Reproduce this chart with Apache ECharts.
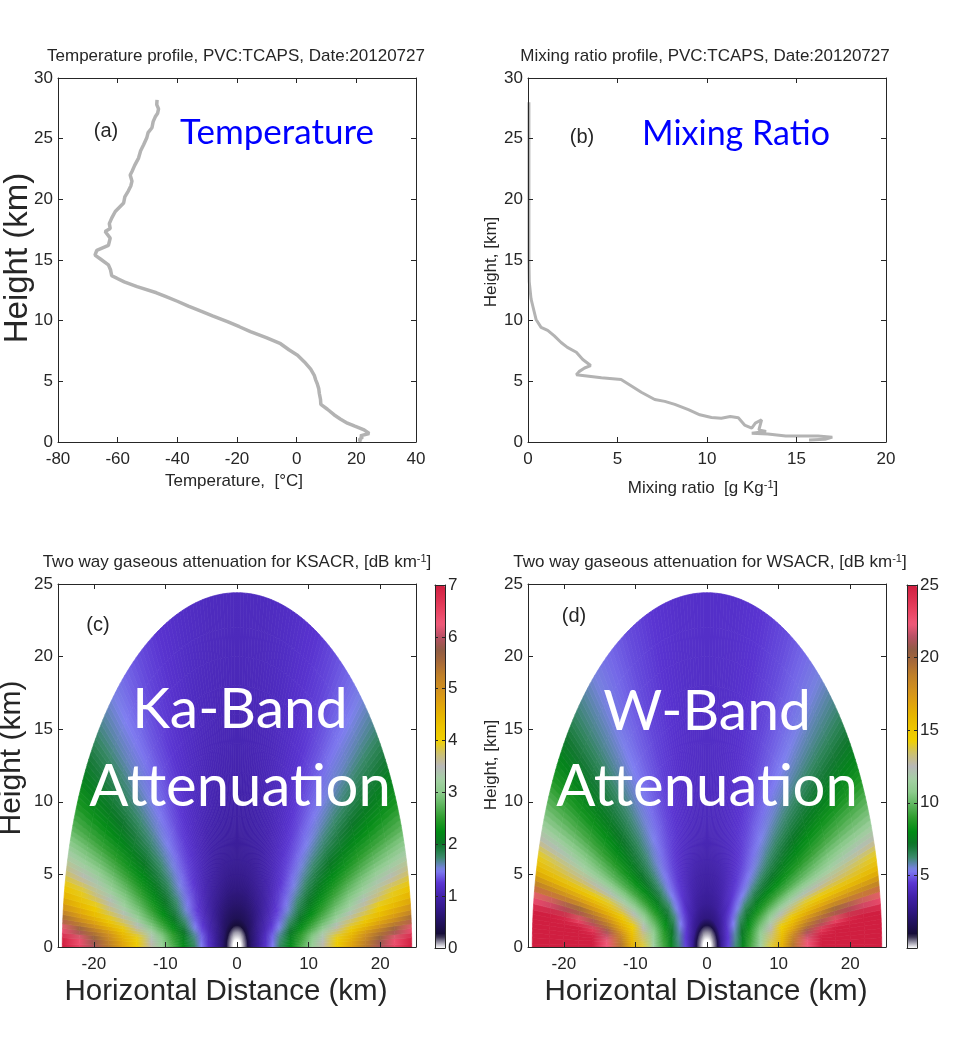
<!DOCTYPE html>
<html><head><meta charset="utf-8">
<script src="https://cdn.jsdelivr.net/npm/echarts@6/dist/echarts.min.js"></script>
<style>html,body{margin:0;padding:0;background:#fff}#c{width:967px;height:1047px}</style>
</head><body><div id="c"></div>
<script>
// ---------- DATA ----------
const tempHeights = [0,0.2,0.4,0.5,0.7,1.0,1.3,1.55,1.9,2.25,2.7,3.1,3.5,4.0,4.4,4.8,5.1,5.5,6.0,6.6,7.15,7.6,8.1,8.6,9.1,9.5,9.9,10.4,10.8,11.2,11.6,12.0,12.3,12.8,13.2,13.5,13.7,14.2,14.6,15.1,15.4,15.8,16.2,16.8,17.35,17.6,18.0,18.45,19.0,19.7,20.2,20.7,21.1,21.5,22.0,22.3,22.8,23.4,24.0,24.5,25.1,25.5,25.9,26.4,26.8,27.1,27.45,27.8,28.2];
const tempValues  = [21.5,21.0,22.1,21.3,24.3,22.6,19.5,17.0,14.6,12.5,10.3,8.1,8.0,7.6,7.4,6.9,6.4,5.9,4.7,2.6,0.3,-2.6,-5.4,-10.2,-15.5,-19.2,-23,-28.2,-32.3,-36.3,-40,-44,-47,-53.5,-57.8,-60.3,-62,-62.4,-63.1,-65.9,-67.6,-67,-63.1,-62.5,-64.2,-62.5,-62.8,-62,-60.8,-58,-57.6,-56.4,-55.6,-55.2,-55.8,-55.2,-54.3,-53,-52.3,-51.3,-50.2,-49.8,-48.5,-48.1,-47.4,-46.6,-46.3,-46.9,-46.8];

const mixHeights = [28,26,22,18,15,13.2,11.8,11.25,10.1,9.45,9.2,8.75,8.2,7.8,7.4,6.8,6.3,6.2,6.1,5.8,5.55,5.3,5.15,4.6,4.1,3.5,3.35,3.1,2.66,2.24,2.02,1.96,2.1,2.0,1.4,1.14,1.55,1.83,1.0,0.86,0.72,0.66,0.5,0.5,0.5,0.4,0.22,0.17];
const mixValues  = [0.05,0.05,0.05,0.05,0.05,0.07,0.17,0.26,0.45,0.73,1.1,1.47,1.85,2.2,2.7,3.06,3.5,3.5,3.16,2.85,2.7,4.1,5.2,5.8,6.33,7.08,7.64,8.2,8.96,9.6,10.25,10.8,11.3,11.75,12.1,12.5,12.7,13.05,12.9,13.3,12.5,13.4,14.4,15.1,16.2,17.0,16.6,15.7];

// beam elevation angles (deg) and ranges (km) of the attenuation tables
const beamAngles = [0.5,1.5,3,4.5,6,8,10,12.5,15,17.5,20,24,28,32,36,40,45,50,56,63,72,81,90];
const beamRanges = [0,0.5,1,1.5,2,3,4,5,6,7.5,9,10.5,12,14,16,18,20,22,24.4];

// Ka-band two-way attenuation [dB], rows = beamAngles, cols = beamRanges
const kaAttenuation = [
[0,0,0.12,0.35,0.6,0.9,1.2,1.49,1.79,2.24,2.68,3.13,3.57,4.16,4.74,5.33,5.91,6.49,7.19],
[0,0,0.12,0.35,0.6,0.9,1.19,1.48,1.78,2.21,2.65,3.08,3.51,4.07,4.63,5.19,5.74,6.28,6.93],
[0,0,0.12,0.35,0.6,0.89,1.18,1.47,1.75,2.18,2.59,3.01,3.41,3.94,4.47,4.98,5.35,5.77,6.25],
[0,0,0.12,0.35,0.59,0.88,1.17,1.45,1.73,2.14,2.54,2.93,3.32,3.71,4.12,4.5,4.86,5.17,5.56],
[0,0,0.12,0.35,0.59,0.88,1.16,1.43,1.71,2.1,2.49,2.78,3.08,3.47,3.8,4.12,4.43,4.71,5.04],
[0,0,0.12,0.35,0.59,0.87,1.14,1.41,1.67,2.0,2.31,2.6,2.85,3.18,3.46,3.74,4.02,4.29,4.55],
[0,0,0.12,0.34,0.58,0.86,1.13,1.39,1.61,1.91,2.19,2.43,2.66,2.94,3.22,3.48,3.7,3.92,4.14],
[0,0,0.12,0.34,0.58,0.85,1.11,1.33,1.53,1.8,2.04,2.25,2.47,2.74,2.96,3.18,3.36,3.52,3.68],
[0,0,0.12,0.34,0.57,0.84,1.07,1.28,1.46,1.7,1.92,2.13,2.33,2.55,2.75,2.91,3.06,3.18,3.3],
[0,0,0.12,0.33,0.57,0.83,1.04,1.23,1.39,1.62,1.83,2.02,2.18,2.38,2.54,2.68,2.8,2.89,2.98],
[0,0,0.12,0.33,0.57,0.8,1.01,1.18,1.34,1.55,1.75,1.92,2.07,2.23,2.36,2.48,2.57,2.64,2.72],
[0,0,0.12,0.32,0.55,0.78,0.96,1.12,1.26,1.46,1.63,1.77,1.89,2.02,2.12,2.2,2.27,2.33,2.4],
[0,0,0.12,0.32,0.55,0.75,0.92,1.06,1.2,1.38,1.53,1.65,1.74,1.84,1.92,1.99,2.05,2.1,2.15],
[0,0,0.12,0.31,0.53,0.73,0.88,1.02,1.15,1.32,1.44,1.54,1.62,1.7,1.76,1.82,1.87,1.91,1.95],
[0,0,0.12,0.31,0.52,0.7,0.85,0.99,1.1,1.25,1.36,1.44,1.51,1.58,1.64,1.69,1.73,1.76,1.79],
[0,0,0.11,0.3,0.51,0.68,0.82,0.95,1.06,1.19,1.29,1.36,1.42,1.48,1.53,1.57,1.6,1.63,1.66],
[0,0,0.11,0.3,0.5,0.66,0.8,0.92,1.02,1.13,1.21,1.27,1.32,1.38,1.42,1.46,1.48,1.5,1.53],
[0,0,0.11,0.29,0.49,0.64,0.78,0.89,0.98,1.08,1.15,1.2,1.25,1.3,1.34,1.36,1.39,1.4,1.42],
[0,0,0.11,0.29,0.48,0.62,0.75,0.86,0.94,1.03,1.09,1.14,1.18,1.22,1.25,1.28,1.29,1.31,1.33],
[0,0,0.1,0.28,0.47,0.61,0.73,0.83,0.9,0.98,1.03,1.08,1.12,1.15,1.18,1.2,1.22,1.23,1.24],
[0,0,0.1,0.28,0.46,0.6,0.71,0.8,0.86,0.94,0.99,1.03,1.06,1.09,1.12,1.13,1.15,1.16,1.17],
[0,0,0.1,0.28,0.45,0.59,0.7,0.78,0.85,0.91,0.96,1.0,1.03,1.06,1.08,1.1,1.11,1.12,1.13],
[0,0,0.1,0.28,0.45,0.59,0.7,0.78,0.84,0.9,0.95,0.99,1.02,1.05,1.07,1.085,1.1,1.11,1.12]
];

// W-band two-way attenuation [dB], rows = beamAngles, cols = beamRanges
const wAttenuation = [
[0,0,0.45,1.4,3.1,4.64,6.19,7.73,9.27,11.58,13.89,16.3,19.2,22.6,25.8,28.6,31.2,33.9,37.4],
[0,0,0.45,1.4,3.09,4.63,6.16,7.69,9.22,11.49,13.76,16.1,19.0,22.3,25.4,28.0,30.5,33.1,36.42],
[0,0,0.45,1.4,3.08,4.61,6.12,7.63,9.13,11.36,13.57,15.8,18.6,21.8,24.8,27.2,29.4,31.5,34.1],
[0,0,0.45,1.4,3.07,4.59,6.09,7.57,9.05,11.23,13.38,15.5,17.9,21.0,23.5,26.0,27.6,29.0,30.9],
[0,0,0.45,1.4,3.06,4.57,6.05,7.52,8.96,11.1,13.19,15.07,16.84,19.19,21.09,22.9,24.47,25.75,27.17],
[0,0,0.45,1.4,3.05,4.54,6.0,7.44,8.85,10.86,12.64,14.4,15.83,17.63,19.0,20.28,21.08,21.82,22.44],
[0,0,0.45,1.4,3.04,4.51,5.95,7.36,8.69,10.46,12.13,13.48,14.71,15.99,16.88,17.58,18.1,18.51,18.95],
[0,0,0.45,1.4,3.02,4.47,5.89,7.19,8.38,9.98,11.34,12.36,13.21,13.99,14.51,14.92,15.27,15.62,16.04],
[0,0,0.45,1.4,3.01,4.44,5.8,6.98,8.1,9.45,10.47,11.23,11.78,12.27,12.65,12.99,13.34,13.7,14.1],
[0,0,0.45,1.4,2.99,4.41,5.65,6.83,7.73,8.86,9.65,10.18,10.55,10.93,11.27,11.62,11.98,12.3,12.64],
[0,0,0.45,1.4,2.98,4.36,5.54,6.55,7.41,8.32,8.89,9.26,9.55,9.89,10.25,10.6,10.92,11.18,11.41],
[0,0,0.45,1.4,2.95,4.23,5.32,6.2,6.84,7.46,7.82,8.1,8.36,8.72,9.05,9.34,9.56,9.7,9.87],
[0,0,0.45,1.4,2.93,4.13,5.09,5.8,6.28,6.72,7.0,7.26,7.53,7.86,8.14,8.33,8.47,8.59,8.69],
[0,0,0.45,1.4,2.89,4.02,4.86,5.43,5.79,6.12,6.38,6.65,6.9,7.19,7.39,7.53,7.63,7.71,7.78],
[0,0,0.45,1.4,2.84,3.89,4.64,5.1,5.37,5.65,5.91,6.17,6.41,6.63,6.77,6.88,6.96,7.01,7.07],
[0,0,0.45,1.4,2.8,3.79,4.43,4.79,5.01,5.27,5.54,5.79,5.98,6.15,6.27,6.35,6.41,6.45,6.5],
[0,0,0.45,1.4,2.76,3.64,3.99,4.46,4.65,4.91,5.17,5.39,5.54,5.68,5.76,5.82,5.87,5.91,5.93],
[0,0,0.45,1.35,2.71,3.51,3.96,4.2,4.37,4.64,4.89,5.07,5.17,5.29,5.36,5.41,5.45,5.47,5.49],
[0,0,0.45,1.35,2.64,3.39,3.74,3.95,4.12,4.38,4.6,4.74,4.84,4.93,4.98,5.03,5.05,5.07,5.09],
[0,0,0.4,1.3,2.59,3.24,3.55,3.73,3.91,4.16,4.36,4.46,4.54,4.61,4.66,4.69,4.71,4.73,4.74],
[0,0,0.4,1.3,2.54,3.11,3.38,3.55,3.73,3.97,4.12,4.23,4.29,4.34,4.39,4.41,4.43,4.44,4.45],
[0,0,0.4,1.3,2.51,3.04,3.28,3.45,3.63,3.86,3.99,4.09,4.15,4.19,4.23,4.25,4.27,4.28,4.29],
[0,0,0.4,1.3,2.5,3.02,3.25,3.42,3.6,3.82,3.95,4.04,4.1,4.15,4.18,4.2,4.22,4.23,4.24]
];

const tempTicks = [-80,-60,-40,-20,0,20,40];
const mixTicks = [0,5,10,15,20];
const heightTicks30 = [0,5,10,15,20,25,30];
const heightTicks25 = [0,5,10,15,20,25];
const distanceTicks = [-20,-10,0,10,20];
const kaBarTicks = [0,1,2,3,4,5,6,7];
const wBarTicks = [5,10,15,20,25];

// ---------- STYLE ----------
const cmap = ['#ffffff','#140c34','#22125e','#321888','#4222aa','#5a34d2','#8080f2','#3a8a6a','#0c7428','#008c14','#2c9c2c','#5cb45c','#8ccc8c','#a4d0a4','#b8b8b8','#ccc070','#f0d000','#ecc400','#e6b400','#dea010','#d09020','#c08028','#a86a38','#905c44','#b85064','#f05a7a','#e84462','#dc3050','#d01e40'];
const FONT = "'Liberation Sans', Arial, Helvetica, sans-serif";
const BIG = "Lato, 'Open Sans', sans-serif";
const AX = '#262626';

const chart = echarts.init(document.getElementById('c'), null, {renderer:'canvas'});

const grids = [
  {left:58, top:78, width:358, height:364},
  {left:528, top:78, width:358, height:364},
  {left:58, top:584, width:358, height:363},
  {left:528, top:584, width:358, height:363},
  {left:435, top:585, width:10, height:363},
  {left:907, top:585, width:10, height:363}
];
const xAxes = [], yAxes = [];
function lineStyle(){ return {show:true, onZero:false, lineStyle:{color:AX, width:1}}; }
function addX(gi, min, max, ticks){
  xAxes.push({gridIndex:gi, type:'value', min, max, position:'bottom', z:5,
    axisLine:lineStyle(), splitLine:{show:false},
    axisTick:{show:true, inside:true, length:5, customValues:ticks, lineStyle:{color:AX}},
    axisLabel:{show:true, customValues:ticks, color:AX, fontSize:17, fontFamily:FONT, margin:9}});
  xAxes.push({gridIndex:gi, type:'value', min, max, position:'top', z:5,
    axisLine:lineStyle(), splitLine:{show:false},
    axisTick:{show:true, inside:true, length:5, customValues:ticks, lineStyle:{color:AX}},
    axisLabel:{show:false}});
}
function addY(gi, min, max, ticks){
  yAxes.push({gridIndex:gi, type:'value', min, max, position:'left', z:5,
    axisLine:lineStyle(), splitLine:{show:false},
    axisTick:{show:true, inside:true, length:5, customValues:ticks, lineStyle:{color:AX}},
    axisLabel:{show:true, customValues:ticks, color:AX, fontSize:17, fontFamily:FONT, margin:5}});
  yAxes.push({gridIndex:gi, type:'value', min, max, position:'right', z:5,
    axisLine:lineStyle(), splitLine:{show:false},
    axisTick:{show:true, inside:true, length:5, customValues:ticks, lineStyle:{color:AX}},
    axisLabel:{show:false}});
}
addX(0,-80,40,tempTicks); addY(0,0,30,heightTicks30);
addX(1,0,20,mixTicks); addY(1,0,30,heightTicks30);
addX(2,-25,25,distanceTicks); addY(2,0,25,heightTicks25);
addX(3,-25,25,distanceTicks); addY(3,0,25,heightTicks25);
function addBar(gi, max, ticks){
  xAxes.push({gridIndex:gi, type:'value', min:0, max:1, position:'bottom', z:5, axisLine:lineStyle(), axisTick:{show:false}, axisLabel:{show:false}, splitLine:{show:false}});
  xAxes.push({gridIndex:gi, type:'value', min:0, max:1, position:'top', z:5, axisLine:lineStyle(), axisTick:{show:false}, axisLabel:{show:false}, splitLine:{show:false}});
  yAxes.push({gridIndex:gi, type:'value', min:0, max, position:'right', z:5, axisLine:lineStyle(), splitLine:{show:false},
    axisTick:{show:true, inside:true, length:3, customValues:ticks, lineStyle:{color:AX}},
    axisLabel:{show:true, customValues:ticks, color:AX, fontSize:17, fontFamily:FONT, margin:3}});
  yAxes.push({gridIndex:gi, type:'value', min:0, max, position:'left', z:5, axisLine:lineStyle(), splitLine:{show:false},
    axisTick:{show:true, inside:true, length:3, customValues:ticks, lineStyle:{color:AX}},
    axisLabel:{show:false}});
}
addBar(4,7,kaBarTicks);
addBar(5,25,wBarTicks);

function cells(table){
  const out = [];
  for (let i=0;i<beamAngles.length;i++) for (let j=0;j<beamRanges.length;j++) out.push([i,j,table[i][j]]);
  return out;
}
const D2R = Math.PI/180;
// one cell = wedge between two table angles and two table ranges, shaded between its corner colours
function wedge(api, side, aA, aB, r0, r1, c0, c1){
  const pts = [];
  const n = 2;
  for (let k=0;k<=n;k++){ const a=(aA+(aB-aA)*k/n)*D2R; pts.push(api.coord([side*r0*Math.cos(a), r0*Math.sin(a)])); }
  for (let k=n;k>=0;k--){ const a=(aA+(aB-aA)*k/n)*D2R; pts.push(api.coord([side*r1*Math.cos(a), r1*Math.sin(a)])); }
  const am = (aA+aB)/2*D2R;
  const p1 = api.coord([side*r0*Math.cos(am), r0*Math.sin(am)]);
  const p2 = api.coord([side*r1*Math.cos(am), r1*Math.sin(am)]);
  const grad = new echarts.graphic.LinearGradient(p1[0],p1[1],p2[0],p2[1],[{offset:0,color:c0},{offset:1,color:c1}], true);
  return {type:'polygon', shape:{points:pts}, style:{fill:grad, stroke:grad, lineWidth:0.7}};
}
function renderCell(params, api){
  const i = api.value(0), j = api.value(1);
  const nR = beamRanges.length, nA = beamAngles.length;
  if (j >= nR-1 || i >= nA-1) return null;
  const idx = params.dataIndexInside;
  const cA0 = api.visual('color');
  const cA1 = api.visual('color', idx+1);
  const cB0 = api.visual('color', idx+nR);
  const cB1 = api.visual('color', idx+nR+1);
  const aA = beamAngles[i], aB = beamAngles[i+1];
  const r0 = beamRanges[j], r1 = beamRanges[j+1];
  const m = Math.max(1, Math.ceil((aB-aA)/1.2));
  const children = [];
  [1,-1].forEach(function(side){
    if (i === 0) children.push(wedge(api, side, 0, aA, r0, r1, cA0, cA1));
    for (let k=0;k<m;k++){
      const t = (k+0.5)/m;
      const c0 = echarts.color.lerp(t, [cA0, cB0]);
      const c1 = echarts.color.lerp(t, [cA1, cB1]);
      children.push(wedge(api, side, aA+(aB-aA)*k/m, aA+(aB-aA)*(k+1)/m, r0, r1, c0, c1));
    }
  });
  return {type:'group', children};
}

function t(x, y, text, size, extra){
  const el = {type:'text', x, y, z:100, silent:true,
    style:{text, fontSize:size, fontFamily:FONT, fill:AX, align:'center', verticalAlign:'middle'}};
  if (extra) { if (extra.style) Object.assign(el.style, extra.style); if (extra.rotation) el.rotation = extra.rotation; }
  return el;
}
function sup(x, y, main1, s, main2, size){
  return {type:'text', x, y, z:100, silent:true,
    style:{text:'{a|'+main1+'}{s|'+s+'}{a|'+main2+'}', align:'center', verticalAlign:'middle',
      rich:{a:{fontSize:size, fontFamily:FONT, fill:AX, verticalAlign:'bottom'},
            s:{fontSize:Math.round(size*0.65), fontFamily:FONT, fill:AX, verticalAlign:'top'}}}};
}
const ROT = Math.PI/2;
const graphics = [
  t(236,56,'Temperature profile, PVC:TCAPS, Date:20120727',17),
  t(705,56,'Mixing ratio profile, PVC:TCAPS, Date:20120727',17),
  sup(237,562,'Two way gaseous attenuation for KSACR, [dB km','-1',']',17),
  sup(710,562,'Two way gaseous attenuation for WSACR, [dB km','-1',']',17),
  t(234,481,'Temperature,  [\u00B0C]',17),
  sup(703,488,'Mixing ratio  [g Kg','-1',']',17),
  t(18,258,'Height (km)',33,{rotation:ROT}),
  t(491,262,'Height, [km]',17,{rotation:ROT}),
  t(12,758,'Height (km)',30,{rotation:ROT}),
  t(491,765,'Height, [km]',17,{rotation:ROT}),
  t(226,992,'Horizontal Distance (km)',29.5),
  t(706,992,'Horizontal Distance (km)',29.5),
  t(106,131,'(a)',20),
  t(582,137,'(b)',20),
  t(98,625,'(c)',20),
  t(574,616,'(d)',20),
  t(277,133,'Temperature',35,{style:{fontFamily:BIG, fill:'#0000ff'}}),
  t(736,134,'Mixing Ratio',34,{style:{fontFamily:BIG, fill:'#0000ff'}}),
  t(240,710,'Ka-Band',57,{style:{fontFamily:BIG, fill:'#ffffff'}}),
  t(240,787,'Attenuation',58,{style:{fontFamily:BIG, fill:'#ffffff'}}),
  t(707,712,'W-Band',57,{style:{fontFamily:BIG, fill:'#ffffff'}}),
  t(707,787,'Attenuation',58,{style:{fontFamily:BIG, fill:'#ffffff'}})
];

const option = {
  animation:false,
  backgroundColor:'#ffffff',
  grid: grids,
  xAxis: xAxes,
  yAxis: yAxes,
  visualMap: [
    {type:'continuous', seriesIndex:2, dimension:2, min:0, max:7, inRange:{color:cmap}, show:true, calculable:false, hoverLink:false,
     left:435, top:585, itemWidth:10, itemHeight:363, padding:0, showLabel:false},
    {type:'continuous', seriesIndex:3, dimension:2, min:0, max:25, inRange:{color:cmap}, show:true, calculable:false, hoverLink:false,
     left:907, top:585, itemWidth:10, itemHeight:363, padding:0, showLabel:false}
  ],
  series: [
    {type:'line', xAxisIndex:0, yAxisIndex:0, data: tempValues.map((v,k)=>[v, tempHeights[k]]), showSymbol:false, symbol:'none',
     lineStyle:{color:'#b3b3b3', width:3.5}, z:3},
    {type:'line', xAxisIndex:2, yAxisIndex:2, data: mixValues.map((v,k)=>[v, mixHeights[k]]), showSymbol:false, symbol:'none',
     lineStyle:{color:'#b3b3b3', width:3}, z:3},
    {type:'custom', xAxisIndex:4, yAxisIndex:4, data: cells(kaAttenuation), renderItem: renderCell, z:2},
    {type:'custom', xAxisIndex:6, yAxisIndex:6, data: cells(wAttenuation), renderItem: renderCell, z:2}
  ],
  graphic: graphics
};
chart.setOption(option);
</script>
</body></html>
